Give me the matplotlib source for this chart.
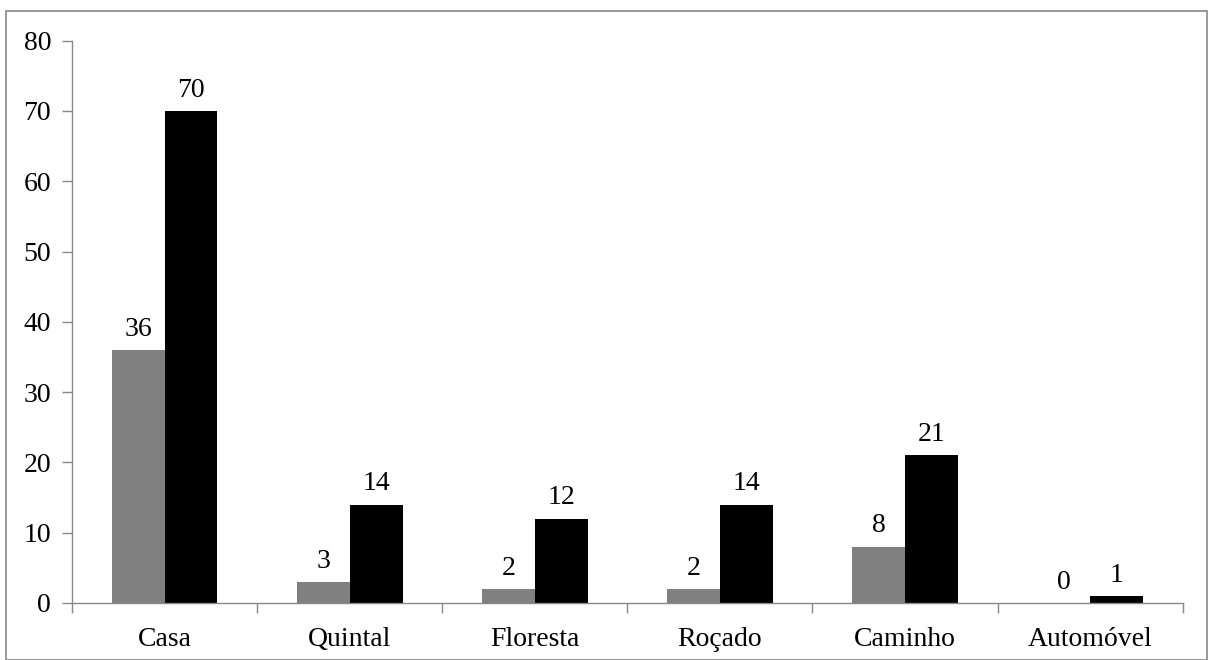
import matplotlib.pyplot as plt
import numpy as np
from matplotlib.patches import Rectangle

# dados
categorias = ['Casa', 'Quintal', 'Floresta', 'Roçado', 'Caminho', 'Automóvel']
serie_cinza = [36, 3, 2, 2, 8, 0]
serie_preta = [70, 14, 12, 14, 21, 1]

plt.rcParams['font.family'] = ['Liberation Serif', 'DejaVu Serif']

fig = plt.figure(figsize=(12.08, 6.6), dpi=100)
ax = fig.add_axes([0.0596, 0.0864, 0.9194, 0.852])

x = np.arange(len(categorias))
w = 0.286
b1 = ax.bar(x - w / 2, serie_cinza, w, color='#808080')
b2 = ax.bar(x + w / 2, serie_preta, w, color='black')

for rects, vals in [(b1, serie_cinza), (b2, serie_preta)]:
    for r, v in zip(rects, vals):
        ax.annotate(str(v), (r.get_x() + r.get_width() / 2, v),
                    xytext=(0, 6), textcoords='offset points',
                    ha='center', va='bottom', fontsize=20)

ax.set_xlim(-0.5, len(categorias) - 0.5)
ax.set_ylim(0, 80)
ax.set_yticks(range(0, 81, 10))
ax.set_xticks(x)
ax.set_xticklabels(categorias)
ax.set_xticks(np.arange(-0.5, len(categorias), 1), minor=True)
ax.tick_params(axis='x', which='major', length=0, pad=17, labelsize=20)
ax.tick_params(axis='x', which='minor', length=7, color='#888888', width=1)
ax.tick_params(axis='y', length=7, color='#888888', width=1, pad=8, labelsize=20)

for s in ['top', 'right']:
    ax.spines[s].set_visible(False)
for s in ['left', 'bottom']:
    ax.spines[s].set_color('#888888')
    ax.spines[s].set_linewidth(1)

# borda do gráfico
fig.patches.append(Rectangle((6 / 1208, 0), 1 - 6 / 1208 - 0.0008, 1 - 11 / 660,
                             transform=fig.transFigure, fill=False,
                             edgecolor='#888888', linewidth=1.2))

fig.savefig('out.png', dpi=100)
